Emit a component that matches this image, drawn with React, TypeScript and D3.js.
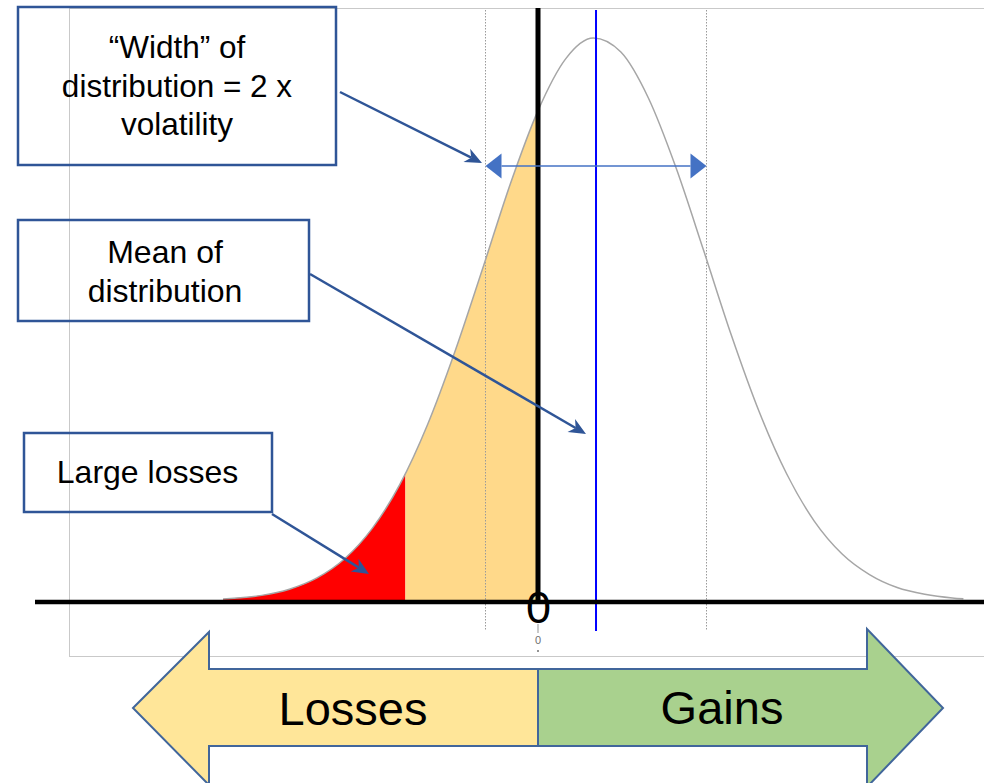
import React from "react";
import * as d3 from "d3";

// ---- data ----
// returns (in units of volatility, 0 = break-even) and relative density of the curve
const returns = [-2.85, -2.75, -2.5, -2.25, -2.0, -1.75, -1.5, -1.25, -1.0, -0.75, -0.5, -0.25, 0, 0.25, 0.5, 0.75, 1.0, 1.25, 1.5, 1.75, 2.0, 2.25, 2.5, 2.75, 3.0, 3.25, 3.5, 3.75, 3.85];
const density = [0.0034, 0.005, 0.010, 0.021, 0.041, 0.075, 0.129, 0.207, 0.313, 0.444, 0.591, 0.741, 0.871, 0.963, 1.0, 0.975, 0.893, 0.769, 0.622, 0.472, 0.337, 0.226, 0.142, 0.084, 0.047, 0.024, 0.012, 0.0055, 0.004];
const meanReturn = 0.525;
const volatility = 1;
const largeLossCut = -1.2;
const zeroTickLabels = ["0"];
const widthLabel = ["\u201CWidth\u201D of", "distribution = 2 x", "volatility"];
const meanLabel = ["Mean of", "distribution"];
const lossLabel = ["Large losses"];
const directionLabels = ["Losses", "Gains"];

const W = 984;
const H = 783;
const FONT = "Arial, 'Liberation Sans', sans-serif";
const BOX = "#2F5597";
const ARROW_OUT = "#41669B";

export default function App() {
  const x = d3.scaleLinear().domain([-4, 4]).range([538 - 442, 538 + 442]);
  const y = d3.scaleLinear().domain([0, 1]).range([601, 38]);

  const idx = returns.map((_, i) => i);
  const area = d3
    .area<number>()
    .x((i) => x(returns[i]))
    .y0(y(0))
    .y1((i) => y(density[i]))
    .curve(d3.curveMonotoneX);
  const line = d3
    .line<number>()
    .x((i) => x(returns[i]))
    .y((i) => y(density[i]))
    .curve(d3.curveMonotoneX);

  const x0 = x(0);
  const xm = x(meanReturn);
  const xl = x(meanReturn - volatility);
  const xr = x(meanReturn + volatility);
  const xc = x(largeLossCut);
  const axisY = y(0) + 1;

  const arrowY = 166;
  const headL = 16;
  const headH = 12.5;

  const stealth = (tx: number, ty: number, fx: number, fy: number) => {
    const a = Math.atan2(ty - fy, tx - fx);
    const pts = [
      [0, 0],
      [-17, -7.5],
      [-12, 0],
      [-17, 7.5],
    ].map(([px, py]) => [tx + px * Math.cos(a) - py * Math.sin(a), ty + px * Math.sin(a) + py * Math.cos(a)]);
    return "M" + pts.map((p) => p.join(",")).join("L") + "Z";
  };

  const annot = [
    { from: [340, 92], to: [482, 163] },
    { from: [310, 274], to: [586, 434] },
    { from: [272, 514], to: [369, 574] },
  ];

  // bottom arrows
  const losses = [
    [133, 708],
    [209, 632],
    [209, 669],
    [x0, 669],
    [x0, 746],
    [209, 746],
    [209, 785],
  ];
  const gains = [
    [x0, 669],
    [867, 669],
    [867, 629],
    [943, 708],
    [867, 787],
    [867, 746],
    [x0, 746],
  ];
  const poly = (p: number[][]) => "M" + p.map((q) => q.join(",")).join("L") + "Z";

  return (
    <svg
      width={W}
      height={H}
      style={{ position: "absolute", left: 0, top: 0, background: "#fff" }}
      fontFamily={FONT}
    >
      <defs>
        <clipPath id="redClip">
          <rect x={x(returns[0]) - 5} y={0} width={xc - x(returns[0]) + 5} height={H} />
        </clipPath>
        <clipPath id="yellowClip">
          <rect x={xc} y={0} width={x0 - xc} height={H} />
        </clipPath>
      </defs>

      {/* plot frame */}
      <rect x={69.5} y={8.5} width={940} height={648} fill="none" stroke="#C9C9C9" strokeWidth={1} />

      {/* fills */}
      <path d={area(idx) || ""} fill="#FF0000" clipPath="url(#redClip)" />
      <path d={area(idx) || ""} fill="#FFD98A" clipPath="url(#yellowClip)" />

      {/* +/- 1 volatility dotted guides */}
      {[xl, xr].map((gx, i) => (
        <line key={i} x1={gx} x2={gx} y1={10} y2={631} stroke="#9A9A9A" strokeWidth={1} strokeDasharray="1.5,1.5" />
      ))}

      {/* distribution curve */}
      <path d={line(idx) || ""} fill="none" stroke="#A6A6A6" strokeWidth={1.5} />

      {/* mean line */}
      <line x1={xm} x2={xm} y1={10} y2={631} stroke="#0000FF" strokeWidth={2} />

      {/* zero line and horizontal axis */}
      <line x1={x0} x2={x0} y1={8} y2={axisY} stroke="#000" strokeWidth={5} />
      <line x1={35} x2={984} y1={axisY} y2={axisY} stroke="#000" strokeWidth={4.5} />
      <line x1={x0} x2={x0} y1={624} y2={633} stroke="#A6A6A6" strokeWidth={1.2} />

      {/* zero labels */}
      <text x={x0 + 0.5} y={623} textAnchor="middle" fontSize={45} fill="#000">
        {zeroTickLabels[0]}
      </text>
      <text x={x0} y={644} textAnchor="middle" fontSize={11} fill="#6F6F6F">
        {zeroTickLabels[0]}
      </text>
      <circle cx={x0} cy={651} r={1} fill="#6F6F6F" />

      {/* width double arrow */}
      <line x1={xl + headL} x2={xr - headL} y1={arrowY} y2={arrowY} stroke="#4472C4" strokeWidth={1.5} />
      <path d={`M${xl},${arrowY}L${xl + headL},${arrowY - headH}L${xl + headL},${arrowY + headH}Z`} fill="#4472C4" />
      <path d={`M${xr},${arrowY}L${xr - headL},${arrowY - headH}L${xr - headL},${arrowY + headH}Z`} fill="#4472C4" />

      {/* callout boxes */}
      <rect x={18} y={7} width={318} height={158} fill="none" stroke={BOX} strokeWidth={2.5} />
      <rect x={18} y={220} width={291} height={101} fill="none" stroke={BOX} strokeWidth={2.5} />
      <rect x={24} y={433} width={248} height={79} fill="none" stroke={BOX} strokeWidth={2.5} />

      {widthLabel.map((t, i) => (
        <text key={t} x={177} y={58 + i * 38.5} textAnchor="middle" fontSize={31.5} fill="#000">
          {t}
        </text>
      ))}
      {meanLabel.map((t, i) => (
        <text key={t} x={165} y={263 + i * 39} textAnchor="middle" fontSize={32} fill="#000">
          {t}
        </text>
      ))}
      {lossLabel.map((t) => (
        <text key={t} x={147.5} y={483} textAnchor="middle" fontSize={32} fill="#000">
          {t}
        </text>
      ))}

      {/* callout arrows */}
      {annot.map((a, i) => {
        const [fx, fy] = a.from;
        const [tx, ty] = a.to;
        const ang = Math.atan2(ty - fy, tx - fx);
        return (
          <g key={i}>
            <line
              x1={fx}
              y1={fy}
              x2={tx - 12 * Math.cos(ang)}
              y2={ty - 12 * Math.sin(ang)}
              stroke={BOX}
              strokeWidth={2.5}
            />
            <path d={stealth(tx, ty, fx, fy)} fill={BOX} />
          </g>
        );
      })}

      {/* losses / gains arrows */}
      <path d={poly(losses)} fill="#FFE699" stroke={ARROW_OUT} strokeWidth={2} strokeLinejoin="miter" />
      <path d={poly(gains)} fill="#A9D18E" stroke={ARROW_OUT} strokeWidth={2} strokeLinejoin="miter" />
      <text x={353} y={725} textAnchor="middle" fontSize={47} fill="#000">
        {directionLabels[0]}
      </text>
      <text x={722} y={724} textAnchor="middle" fontSize={47} fill="#000">
        {directionLabels[1]}
      </text>
    </svg>
  );
}
